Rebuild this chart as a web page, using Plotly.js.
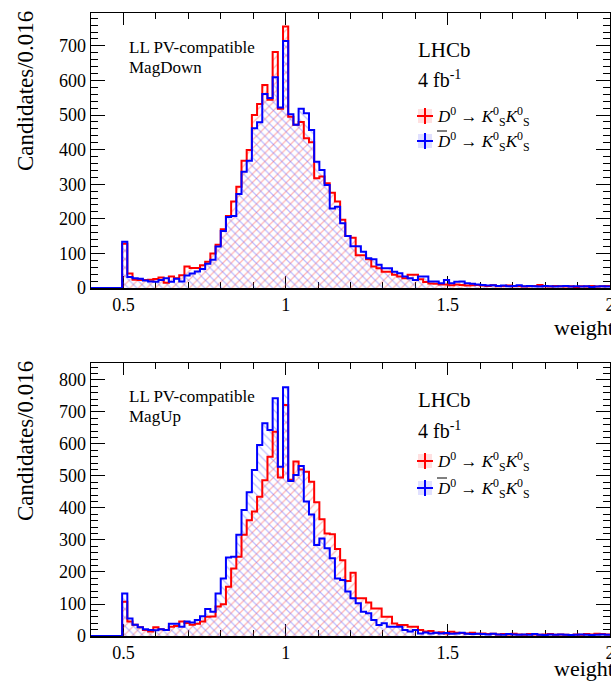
<!DOCTYPE html>
<html>
<head>
<meta charset="utf-8">
<script src="https://cdn.plot.ly/plotly-3.0.1.min.js"></script>
<style>html,body{margin:0;padding:0;background:#fff;}#plot{width:611px;height:684px;}</style>
</head>
<body>
<div id="plot"></div>
<script>
// ---- data: histogram of weight, 100 bins of width 0.016 starting at 0.4 ----
const binLow = 0.4;
const binWidth = 0.016;

// MagDown, D0 -> KS KS (red)
const magDownD0 = [0,0,0,0,0,0,128,42,24,23,23,24,26,30,15,33,28,37,62,58,
  58,66,76,100,125,170,208,250,293,368,399,500,532,587,544,682,518,756,495,472,
  480,433,421,317,322,303,275,250,197,150,145,95,95,83,62,57,47,47,38,33,
  28,38,38,25,17,13,12,10,10,8,10,9,7,8,9,7,6,8,5,6,
  7,5,6,4,5,6,9,5,4,6,5,4,5,3,5,4,6,4,5,6];
// MagDown, D0bar -> KS KS (blue)
const magDownD0bar = [0,0,0,0,0,0,134,32,28,27,22,19,18,23,28,18,27,19,36,42,
  48,55,70,82,120,165,205,208,272,336,368,462,479,561,549,609,522,714,502,472,
  518,505,457,365,341,298,230,235,187,150,121,121,105,86,83,67,57,57,47,43,
  33,28,23,33,33,19,19,14,23,14,18,19,14,12,10,9,7,8,6,7,
  5,6,8,5,6,5,4,6,5,4,5,6,4,5,4,5,3,4,5,4];
// MagUp, D0 -> KS KS (red)
const magUpD0 = [0,0,0,0,0,0,107,45,35,27,19,14,27,21,19,29,31,45,41,35,
  38,45,60,61,92,99,154,211,248,316,362,389,435,487,560,638,495,722,488,545,
  520,513,482,418,365,320,318,272,237,172,198,118,118,105,86,86,60,60,39,34,
  34,29,29,19,14,16,10,12,8,13,10,9,8,10,7,8,6,7,5,6,
  5,7,5,4,6,5,4,5,6,4,5,4,3,5,4,6,5,7,6,5];
// MagUp, D0bar -> KS KS (blue)
const magUpD0bar = [0,0,0,0,0,0,133,55,35,27,21,19,18,21,19,38,38,29,45,42,
  50,62,84,76,133,180,245,248,316,394,449,519,597,665,644,743,529,777,484,503,
  531,420,380,284,305,274,243,180,175,139,118,102,76,71,50,34,40,29,29,29,
  19,14,19,8,11,8,10,8,9,7,8,10,7,6,7,6,5,7,5,4,
  6,5,4,5,4,6,4,3,5,4,5,4,3,4,5,4,3,4,5,4];

const xTickVals = [0.5, 1, 1.5, 2];
const xTickText = ['0.5', '1', '1.5', '2'];
const yTicksTop = [0,100,200,300,400,500,600,700];
const yTicksBottom = [0,100,200,300,400,500,600,700,800];
const textTop = ['LL PV-compatible', 'MagDown'];
const textBottom = ['LL PV-compatible', 'MagUp'];
const expText = ['LHCb', '4 fb<sup>-1</sup>'];
const legendText = [
  '<i>D</i><sup>0</sup> \u2192 <i>K</i><sup>0</sup><sub>S</sub><i>K</i><sup>0</sup><sub>S</sub>',
  '<i>D</i><sup>0</sup> \u2192 <i>K</i><sup>0</sup><sub>S</sub><i>K</i><sup>0</sup><sub>S</sub>'
];

// ---- build traces ----
const nBins = magDownD0.length;
const centers = magDownD0.map((_, i) => +(binLow + (i + 0.5) * binWidth).toFixed(4));
const edges = [];
for (let i = 0; i <= nBins; i++) edges.push(+(binLow + i * binWidth).toFixed(4));
const stepY = arr => arr.concat([arr[arr.length - 1]]);

const RED = 'rgb(255,0,0)';
const BLUE = 'rgb(0,0,255)';
const FONT = 'Liberation Serif, Times New Roman, serif';

function hatchBars(vals, shape, col, xa, ya) {
  return {type: 'bar', x: centers, y: vals, width: binWidth, xaxis: xa, yaxis: ya,
    marker: {color: 'rgba(0,0,0,0)', line: {width: 0},
      pattern: {shape: shape, fgcolor: col, bgcolor: 'rgba(0,0,0,0)', size: 6, solidity: 0.2, fillmode: 'overlay'}},
    showlegend: false, hoverinfo: 'skip'};
}
function stepLine(vals, col, xa, ya) {
  return {type: 'scatter', mode: 'lines', x: edges, y: stepY(vals), xaxis: xa, yaxis: ya,
    line: {shape: 'hv', color: col, width: 2}, cliponaxis: false, showlegend: false, hoverinfo: 'skip'};
}

const traces = [
  hatchBars(magDownD0, '/', 'rgba(255,70,70,0.8)', 'x', 'y'),
  hatchBars(magDownD0bar, '\\', 'rgba(90,90,255,0.8)', 'x', 'y'),
  stepLine(magDownD0, RED, 'x', 'y'),
  stepLine(magDownD0bar, BLUE, 'x', 'y'),
  hatchBars(magUpD0, '/', 'rgba(255,70,70,0.8)', 'x2', 'y2'),
  hatchBars(magUpD0bar, '\\', 'rgba(90,90,255,0.8)', 'x2', 'y2'),
  stepLine(magUpD0, RED, 'x2', 'y2'),
  stepLine(magUpD0bar, BLUE, 'x2', 'y2')
];

// ---- layout ----
const W = 611, H = 684, L = 91, R = 1, T = 13, B = 48;
const pw = W - L - R, ph = H - T - B;
const px = x => (x - L) / pw;          // pixel -> paper x
const py = y => (H - B - y) / ph;      // pixel -> paper y

function xAxis(anchor) {
  return {anchor: anchor, range: [binLow, 2.0], tickvals: xTickVals, ticktext: xTickText,
    ticks: 'inside', ticklen: 12, tickwidth: 1, tickcolor: '#000', ticklabeloverflow: 'allow',
    minor: {dtick: 0.1, tick0: 0.4, ticks: 'inside', ticklen: 6, tickcolor: '#000', tickwidth: 1},
    showline: true, linecolor: '#000', linewidth: 1.5, mirror: 'allticks', layer: 'below traces',
    showgrid: false, zeroline: false, tickfont: {family: FONT, size: 18, color: '#000'}};
}
function yAxis(anchor, domain, top, tv) {
  return {anchor: anchor, domain: domain, range: [0, top], tickvals: tv, ticktext: tv.map(String),
    ticks: 'inside', ticklen: 14, tickwidth: 1, tickcolor: '#000',
    minor: {dtick: 20, tick0: 0, ticks: 'inside', ticklen: 7, tickcolor: '#000', tickwidth: 1},
    showline: true, linecolor: '#000', linewidth: 1.5, mirror: 'allticks', layer: 'below traces',
    showgrid: false, zeroline: false, tickfont: {family: FONT, size: 18, color: '#000'}};
}

const ann = [];
const txt = (text, x, y, size, xa, ya, extra) => ann.push(Object.assign({
  text: text, x: px(x), y: py(y), xref: 'paper', yref: 'paper', showarrow: false,
  xanchor: xa || 'left', yanchor: ya || 'middle', font: {family: FONT, size: size, color: '#000'}}, extra || {}));

// panel texts
txt(textTop[0], 127, 47, 17); txt(textTop[1], 127, 67, 17);
txt(textBottom[0], 127, 396, 17); txt(textBottom[1], 127, 416, 17);
txt(expText[0], 416, 50, 21); txt(expText[1], 416, 79, 20);
txt(expText[0], 416, 400, 21); txt(expText[1], 416, 430, 20);
txt(legendText[0], 435, 116, 17); txt(legendText[1], 435, 141, 17);
txt(legendText[0], 435, 461, 17); txt(legendText[1], 435, 488, 17);
// axis titles
txt('Candidates/0.016', 25, 9, 23, 'center', 'top', {textangle: -90});
txt('Candidates/0.016', 25, 359, 23, 'center', 'top', {textangle: -90});
txt('weight', 616, 327, 22, 'right', 'middle');
txt('weight', 616, 668, 22, 'right', 'middle');

// legend symbols (hatched box + cross) and overline of D-bar
const shapes = [];
function legendSym(cx, cy, col, fill) {
  shapes.push({type: 'rect', xref: 'paper', yref: 'paper', x0: px(cx - 7), x1: px(cx + 7), y0: py(cy + 7), y1: py(cy - 7),
    fillcolor: fill, line: {width: 0}});
  shapes.push({type: 'line', xref: 'paper', yref: 'paper', x0: px(cx - 8), x1: px(cx + 8), y0: py(cy), y1: py(cy), line: {color: col, width: 2}});
  shapes.push({type: 'line', xref: 'paper', yref: 'paper', x0: px(cx), x1: px(cx), y0: py(cy - 8), y1: py(cy + 8), line: {color: col, width: 2}});
}
legendSym(425, 116, RED, 'rgba(255,0,0,0.12)');
legendSym(425, 141, BLUE, 'rgba(0,0,255,0.12)');
legendSym(425, 461, RED, 'rgba(255,0,0,0.12)');
legendSym(425, 488, BLUE, 'rgba(0,0,255,0.12)');
shapes.push({type: 'line', xref: 'paper', yref: 'paper', x0: px(437), x1: px(447), y0: py(131), y1: py(131), line: {color: '#000', width: 1}});
shapes.push({type: 'line', xref: 'paper', yref: 'paper', x0: px(437), x1: px(447), y0: py(478), y1: py(478), line: {color: '#000', width: 1}});

const layout = {
  width: W, height: H, margin: {l: L, r: R, t: T, b: B, pad: 0},
  paper_bgcolor: '#fff', plot_bgcolor: '#fff', barmode: 'overlay', bargap: 0,
  font: {family: FONT, color: '#000'},
  xaxis: xAxis('y'), yaxis: yAxis('x', [py(288), 1], 795, yTicksTop),
  xaxis2: xAxis('y2'), yaxis2: yAxis('x2', [0, py(363)], 853, yTicksBottom),
  annotations: ann, shapes: shapes, showlegend: false
};

Plotly.newPlot('plot', traces, layout, {displayModeBar: false, staticPlot: true});
</script>
</body>
</html>
